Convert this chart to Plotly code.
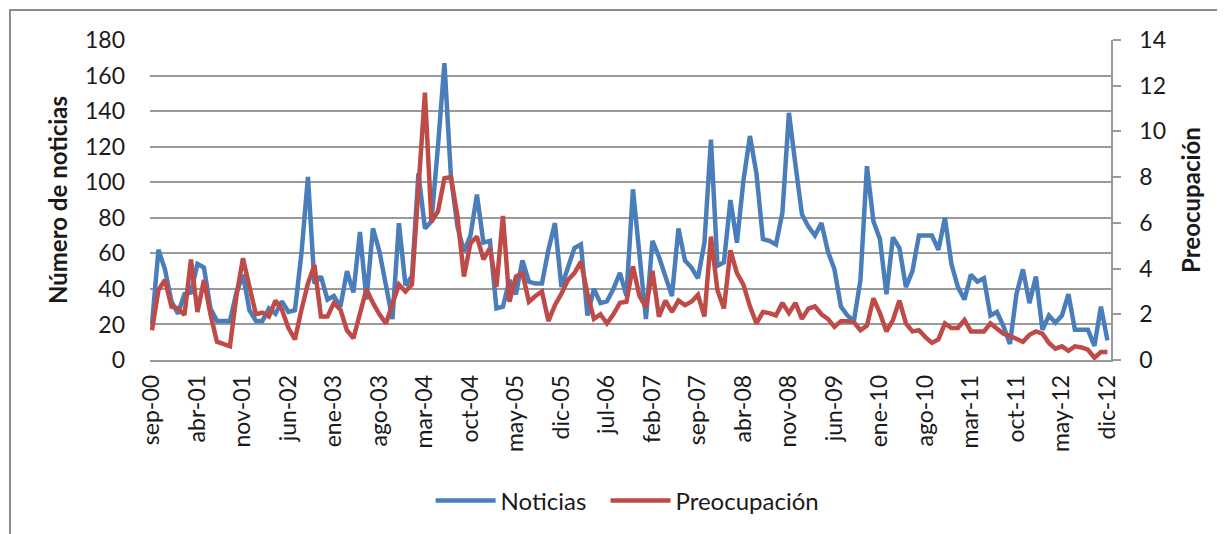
import plotly.graph_objects as go

abrev = ['ene', 'feb', 'mar', 'abr', 'may', 'jun', 'jul', 'ago', 'sep', 'oct', 'nov', 'dic']
# months sep-2000 .. dic-2012
meses = []
for anio in range(2000, 2013):
    for m in range(12):
        if anio == 2000 and m < 8:
            continue
        meses.append(f"{abrev[m]}-{anio % 100:02d}")

etiquetas = ['sep-00', 'abr-01', 'nov-01', 'jun-02', 'ene-03', 'ago-03', 'mar-04', 'oct-04',
             'may-05', 'dic-05', 'jul-06', 'feb-07', 'sep-07', 'abr-08', 'nov-08', 'jun-09',
             'ene-10', 'ago-10', 'mar-11', 'oct-11', 'may-12', 'dic-12']

noticias = [20, 62, 51, 33, 26, 37, 38, 54, 52, 29, 22, 22, 22, 38, 48, 28, 22, 22, 29, 26,
            33, 27, 28, 60, 103, 43, 47, 34, 36, 30, 50, 38, 72, 34, 74, 61, 41, 23, 77, 42,
            47, 105, 74, 78, 120, 167, 103, 75, 61, 70, 93, 66, 67, 29, 30, 45, 37, 56, 44, 43,
            43, 62, 77, 41, 52, 63, 65, 25, 40, 32, 33, 40, 49, 36, 96, 58, 23, 67, 58, 47,
            36, 74, 56, 52, 46, 66, 124, 53, 55, 90, 66, 101, 126, 105, 68, 67, 65, 83, 139, 110,
            82, 75, 70, 77, 61, 51, 30, 25, 22, 45, 109, 78, 68, 37, 69, 63, 41, 50, 70, 70,
            70, 62, 80, 54, 41, 34, 48, 44, 46, 25, 27, 19, 9, 37, 51, 32, 47, 17, 25, 21,
            25, 37, 17, 17, 17, 8, 30, 11]

preocupacion = [1.3, 3.06, 3.5, 2.33, 2.26, 1.97, 4.4, 2.1, 3.5, 2.0, 0.8, 0.7, 0.6, 2.8, 4.45, 3.2,
                2.0, 2.07, 1.9, 2.6, 2.2, 1.4, 0.9, 2.2, 3.35, 4.15, 1.9, 1.9, 2.5, 2.2, 1.3, 0.95,
                2.0, 3.1, 2.5, 2.0, 1.6, 2.5, 3.3, 3.0, 3.3, 7.5, 11.7, 6.05, 6.5, 7.95, 8.0, 6.3,
                3.65, 5.1, 5.4, 4.4, 4.9, 3.2, 6.3, 2.55, 3.65, 3.8, 2.55, 2.8, 3.0, 1.7, 2.4, 2.9,
                3.5, 3.8, 4.3, 2.9, 1.8, 2.0, 1.6, 2.0, 2.5, 2.55, 4.1, 2.8, 2.3, 3.9, 1.9, 2.6,
                2.1, 2.6, 2.4, 2.55, 2.85, 1.9, 5.4, 3.05, 2.25, 4.8, 3.8, 3.3, 2.35, 1.6, 2.1, 2.05,
                1.95, 2.5, 2.05, 2.5, 1.8, 2.25, 2.35, 2.0, 1.8, 1.45, 1.7, 1.7, 1.65, 1.3, 1.5, 2.7,
                2.05, 1.25, 1.75, 2.6, 1.6, 1.25, 1.3, 1.0, 0.75, 0.9, 1.6, 1.4, 1.4, 1.75, 1.25, 1.25,
                1.25, 1.6, 1.4, 1.15, 1.05, 0.95, 0.8, 1.1, 1.25, 1.15, 0.75, 0.5, 0.6, 0.4, 0.6, 0.55,
                0.45, 0.1, 0.35, 0.35]

AZUL = '#4A7EBB'
ROJO = '#BE4B48'
GRIS = '#9a9a9a'
FUENTE = 'Lato'

fig = go.Figure()
fig.add_trace(go.Scatter(x=meses, y=noticias, name='Noticias', mode='lines',
                         line=dict(color=AZUL, width=4.5), legend='legend'))
fig.add_trace(go.Scatter(x=meses, y=preocupacion, name='Preocupación', mode='lines',
                         line=dict(color=ROJO, width=4.5), yaxis='y2', legend='legend2'))

leyenda = dict(orientation='h', y=-0.44, xanchor='left', yanchor='middle',
               font=dict(size=24), itemwidth=60, bgcolor='rgba(0,0,0,0)')

# page body adds 8px, so margins are shifted by that amount
fig.update_layout(
    width=1225, height=534,
    margin=dict(l=142, r=122, t=32, b=182),
    plot_bgcolor='white', paper_bgcolor='white',
    font=dict(family=FUENTE, size=23, color='#1a1a1a'),
    showlegend=True,
    legend=dict(leyenda, x=0.292),
    legend2=dict(leyenda, x=0.474),
    xaxis=dict(type='category', range=[-0.3, 147.55], tickvals=etiquetas, ticktext=etiquetas,
               tickangle=-90, showgrid=False, showline=True, linecolor=GRIS, linewidth=1.5,
               ticks='', ticklabelstandoff=4),
    yaxis=dict(range=[0, 180], dtick=20, showgrid=True, gridcolor=GRIS, gridwidth=1.5,
               zeroline=False, showline=False, ticks='', ticklabelstandoff=24,
               title=dict(text='Número de noticias', font=dict(size=24, weight='bold'), standoff=10)),
    yaxis2=dict(range=[0, 14], dtick=2, overlaying='y', side='right', showgrid=False,
                zeroline=False, showline=True, linecolor=GRIS, linewidth=1.5,
                ticks='outside', ticklen=8, tickcolor=GRIS, tickwidth=1.5, ticklabelstandoff=14,
                title=dict(text='Preocupación', font=dict(size=24, weight='bold'), standoff=18)),
)

# chart border (only top and left edges fall inside the picture)
fig.add_shape(type='rect', xref='paper', yref='paper',
              x0=-0.1457, x1=1.2, y0=-0.7, y1=1.09375,
              line=dict(color='#8c8c8c', width=2), fillcolor='rgba(0,0,0,0)', layer='below')

fig.write_html("out.html")
